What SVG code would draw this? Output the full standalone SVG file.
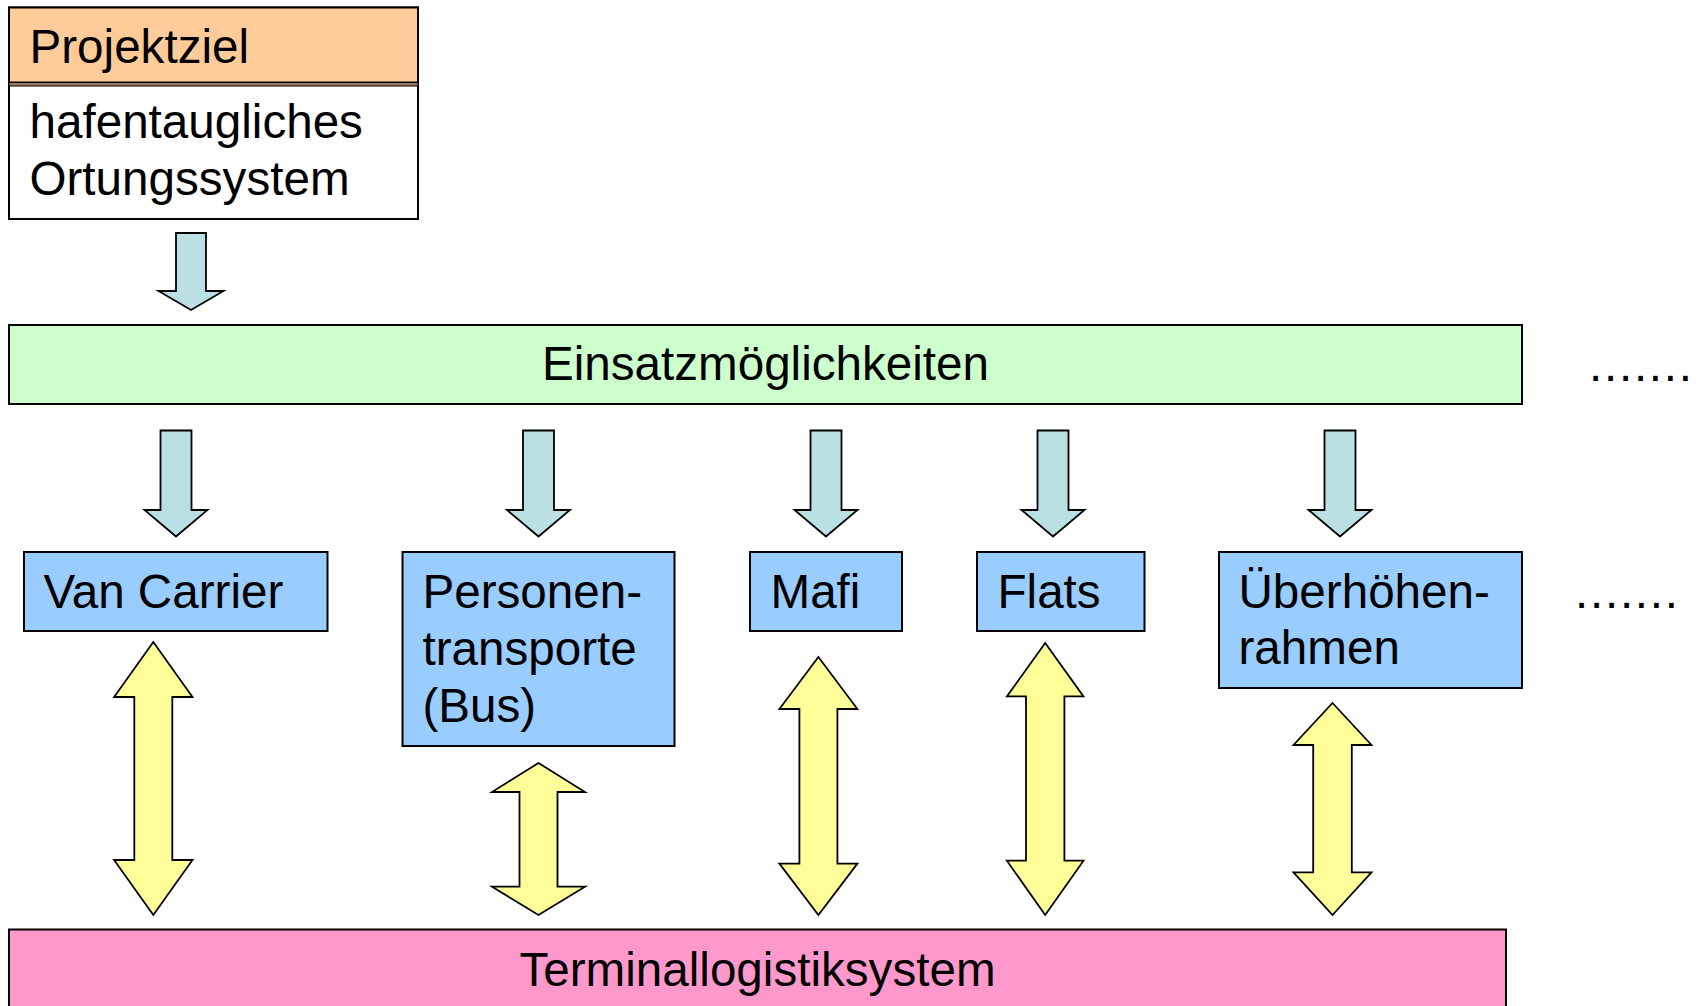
<svg xmlns="http://www.w3.org/2000/svg" width="1703" height="1006" viewBox="0 0 1703 1006">
<style>
text{font-family:"Liberation Sans",Arial,sans-serif;font-size:47.6px;fill:#000}
.box{stroke:#000;stroke-width:2}
.down{fill:#BBE0E3;stroke:#000;stroke-width:1.8;stroke-linejoin:miter}
.dbl{fill:#FFFF99;stroke:#000;stroke-width:1.8;stroke-linejoin:miter}
</style>
<rect width="1703" height="1006" fill="#fff"/>
<g id="projektziel">
<rect class="box" x="9" y="7.5" width="409" height="211.5" fill="#fff"/>
<rect x="9" y="7.5" width="409" height="75" fill="#FFCC99" stroke="#000" stroke-width="2"/>
<rect x="9" y="82.5" width="409" height="3.5" fill="#9C7A5A" stroke="#000" stroke-width="1"/>
<text x="29.5" y="63">Projektziel</text>
<text x="29.5" y="138">hafentaugliches</text>
<text x="29.5" y="195">Ortungssystem</text>
</g>
<g id="einsatz">
<rect class="box" x="9" y="325" width="1513" height="79" fill="#CCFFCC"/>
<text x="765.5" y="380" text-anchor="middle">Einsatzmöglichkeiten</text>
</g>
<g id="dots1"><text x="1589" y="381" textLength="103" lengthAdjust="spacing">.......</text></g>
<g id="dots2"><text x="1575" y="608" textLength="103" lengthAdjust="spacing">.......</text></g>
<g id="vancarrier">
<rect class="box" x="24" y="552" width="303.5" height="79" fill="#99CCFF"/>
<text x="43.5" y="608">Van Carrier</text>
</g>
<g id="personen">
<rect class="box" x="402.5" y="552" width="272" height="194" fill="#99CCFF"/>
<text x="422.5" y="608">Personen-</text>
<text x="422.5" y="665">transporte</text>
<text x="422.5" y="722">(Bus)</text>
</g>
<g id="mafi">
<rect class="box" x="750" y="552" width="152" height="79" fill="#99CCFF"/>
<text x="770.5" y="608">Mafi</text>
</g>
<g id="flats">
<rect class="box" x="977" y="552" width="167.5" height="79" fill="#99CCFF"/>
<text x="997.5" y="608">Flats</text>
</g>
<g id="ueberhoehen">
<rect class="box" x="1219" y="552" width="303" height="136" fill="#99CCFF"/>
<text x="1238.5" y="608">Überhöhen-</text>
<text x="1238.5" y="664">rahmen</text>
</g>
<g id="terminal">
<rect class="box" x="9" y="929.5" width="1497" height="100" fill="#FF99CC"/>
<text x="757.5" y="986" text-anchor="middle">Terminallogistiksystem</text>
</g>
<g id="connectors">
<polygon class="down" points="176,233 206,233 206,291 223.5,291 191,310 158.5,291 176,291"/>
<polygon class="down" points="160.5,430.5 191.5,430.5 191.5,510 207.5,510 176,536.5 144.5,510 160.5,510"/>
<polygon class="down" points="523,430.5 554,430.5 554,510 570,510 538.5,536.5 507,510 523,510"/>
<polygon class="down" points="810.5,430.5 841.5,430.5 841.5,510 857.5,510 826,536.5 794.5,510 810.5,510"/>
<polygon class="down" points="1037.5,430.5 1068.5,430.5 1068.5,510 1084.5,510 1053,536.5 1021.5,510 1037.5,510"/>
<polygon class="down" points="1324.5,430.5 1355.5,430.5 1355.5,510 1371.5,510 1340,536.5 1308.5,510 1324.5,510"/>
<polygon class="dbl" points="153.3,642 192.5,697 172.3,697 172.3,860 192.5,860 153.3,915 114.1,860 134.3,860 134.3,697 114.1,697"/>
<polygon class="dbl" points="538.5,763 585,792 557.5,792 557.5,886.7 585,886.7 538.5,915 492,886.7 519.5,886.7 519.5,792 492,792"/>
<polygon class="dbl" points="818.4,657 857.4,709 837.4,709 837.4,863.6 857.4,863.6 818.4,915 779.4,863.6 799.4,863.6 799.4,709 779.4,709"/>
<polygon class="dbl" points="1045.2,643 1083.5,696.4 1064.4,696.4 1064.4,860.7 1083.5,860.7 1045.2,915 1006.9,860.7 1026,860.7 1026,696.4 1006.9,696.4"/>
<polygon class="dbl" points="1332.5,703 1371.5,745 1351.8,745 1351.8,872.3 1371.5,872.3 1332.5,915 1293.5,872.3 1313.2,872.3 1313.2,745 1293.5,745"/>
</g>
</svg>
